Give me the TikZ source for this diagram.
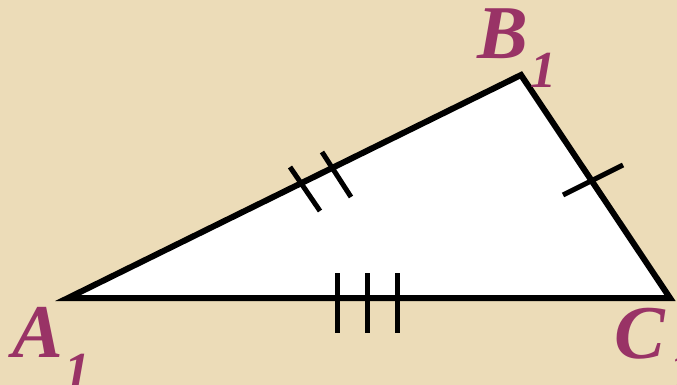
\documentclass[tikz,border=0pt]{standalone}
\usepackage{fontspec}
\setmainfont{Liberation Serif}[BoldItalicFont={Liberation Serif Bold Italic}]
\newfontfamily\lblfont{Liberation Serif Bold Italic}
\definecolor{bgbeige}{RGB}{236,220,184}
\definecolor{lblpurple}{RGB}{153,51,102}
\begin{document}
\begin{tikzpicture}[x=1pt,y=-1pt,
  edge/.style={line width=6pt,line join=miter,draw=black},
  tick/.style={line width=5pt,draw=black},
  biglbl/.style={text=lblpurple,font=\lblfont\fontsize{76}{76}\selectfont,inner sep=0pt,anchor=base},
  sublbl/.style={text=lblpurple,font=\lblfont\fontsize{52}{52}\selectfont,inner sep=0pt,anchor=base}]
\fill[bgbeige] (0,0) rectangle (677,385);
\useasboundingbox (0,0) rectangle (677,385);
\coordinate (A) at (68,298);
\coordinate (B) at (521,75);
\coordinate (C) at (670,298);
\fill[white] (A) -- (B) -- (C) -- cycle;
% ticks
\coordinate (t1a) at (290,167); \coordinate (t1b) at (320,211);
\coordinate (t2a) at (322,152); \coordinate (t2b) at (351,197);
\draw[tick] (t1a) -- (t1b);
\draw[tick] (t2a) -- (t2b);
\coordinate (t3a) at (563,195); \coordinate (t3b) at (623,165);
\draw[tick] (t3a) -- (t3b);
\coordinate (t4a) at (337,273); \coordinate (t4b) at (337,333);
\coordinate (t5a) at (367,273); \coordinate (t5b) at (367,333);
\coordinate (t6a) at (397,273); \coordinate (t6b) at (397,333);
\draw[tick] (t4a) -- (t4b);
\draw[tick] (t5a) -- (t5b);
\draw[tick] (t6a) -- (t6b);
\draw[edge] (A) -- (B) -- (C) -- cycle;
% labels
\node[biglbl] (la) at (38,357) {A};
\node[sublbl] (la1) at (77,388) {1};
\node[biglbl] (lb) at (503,59) {B};
\node[sublbl] (lb1) at (543,88) {1};
\node[biglbl] (lc) at (640,358) {C};
\node[sublbl] (lc1) at (682,388) {1};
\end{tikzpicture}
\end{document}
